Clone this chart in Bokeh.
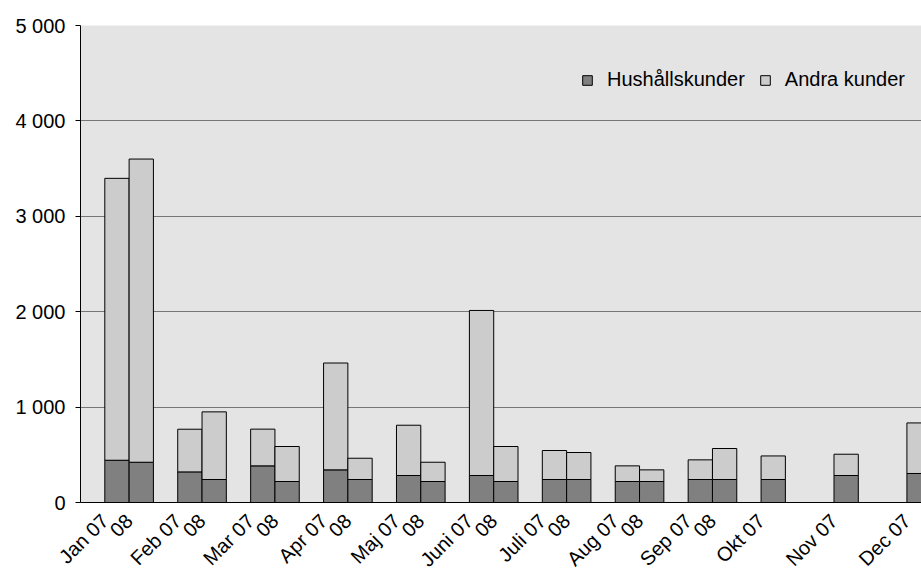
from bokeh.plotting import figure
from bokeh.models import Range1d, FixedTicker, Legend, LegendItem, ColumnDataSource
from bokeh.embed import file_html
from bokeh.resources import INLINE

months = ["Jan", "Feb", "Mar", "Apr", "Maj", "Juni", "Juli", "Aug", "Sep", "Okt", "Nov", "Dec"]
hush_07 = [443, 321, 384, 342, 283, 283, 241, 220, 241, 241, 283, 304]
andra_07 = [2955, 447, 385, 1120, 527, 1730, 304, 164, 206, 247, 223, 530]
hush_08 = [422, 241, 220, 241, 220, 220, 241, 220, 241]
andra_08 = [3178, 709, 367, 223, 202, 367, 283, 122, 325]
y_ticks = [0, 1000, 2000, 3000, 4000, 5000]
y_tick_labels = ["0", "1 000", "2 000", "3 000", "4 000", "5 000"]

FONT = "Liberation Sans"

# layout: each month = blank slot, 07 slot, 08 slot
x07 = [3 * i + 1.5 for i in range(len(hush_07))]
x08 = [3 * i + 2.5 for i in range(len(hush_08))]

src07 = ColumnDataSource(dict(x=x07, h=hush_07, t=[a + b for a, b in zip(hush_07, andra_07)]))
src08 = ColumnDataSource(dict(x=x08, h=hush_08, t=[a + b for a, b in zip(hush_08, andra_08)]))

p = figure(width=921, height=581, x_range=Range1d(0, 34.6), y_range=Range1d(0, 5000),
           output_backend="svg", toolbar_location=None,
           min_border_left=80, min_border_right=0, min_border_top=25, min_border_bottom=79)
p.background_fill_color = "#e4e4e4"
p.border_fill_color = "white"
p.outline_line_color = None

dark = "#808080"
light = "#cccccc"

r1 = p.vbar(x="x", width=1, bottom=0, top="h", source=src07, fill_color=dark, line_color="black", line_width=1)
r2 = p.vbar(x="x", width=1, bottom="h", top="t", source=src07, fill_color=light, line_color="black", line_width=1)
p.vbar(x="x", width=1, bottom=0, top="h", source=src08, fill_color=dark, line_color="black", line_width=1)
p.vbar(x="x", width=1, bottom="h", top="t", source=src08, fill_color=light, line_color="black", line_width=1)

# axes
p.xgrid.visible = False
p.ygrid.grid_line_color = "#777777"
p.ygrid.ticker = FixedTicker(ticks=y_ticks)

p.yaxis.ticker = FixedTicker(ticks=y_ticks)
p.yaxis.major_label_overrides = {t: l for t, l in zip(y_ticks, y_tick_labels)}
p.yaxis.major_tick_out = 5
p.yaxis.major_tick_in = 0
p.yaxis.minor_tick_out = 0
p.yaxis.minor_tick_in = 0
p.yaxis.major_label_standoff = 10
p.yaxis.major_label_text_font = FONT
p.yaxis.major_label_text_font_size = "20px"
p.yaxis.major_label_text_color = "black"
p.yaxis.axis_line_color = "black"
p.yaxis.major_tick_line_color = "black"

# x labels: anchored at each bar's left edge, rotated 45 degrees
xt = [int(x - 0.5) for x in x07] + [int(x - 0.5) for x in x08]
xl = [f"{m} 07" for m in months] + ["08" for _ in hush_08]
p.xaxis.ticker = FixedTicker(ticks=xt)
p.xaxis.major_label_overrides = {t: l for t, l in zip(xt, xl)}
p.xaxis.major_label_orientation = 0.785398
p.xaxis.major_tick_out = 0
p.xaxis.major_tick_in = 0
p.xaxis.minor_tick_out = 0
p.xaxis.minor_tick_in = 0
p.xaxis.major_label_standoff = 15
p.xaxis.major_label_text_font = FONT
p.xaxis.major_label_text_font_size = "20px"
p.xaxis.major_label_text_color = "black"
p.xaxis.axis_line_color = "black"

legend = Legend(items=[LegendItem(label="Hushållskunder", renderers=[r1]),
                       LegendItem(label="Andra kunder", renderers=[r2])],
                orientation="horizontal", location=(501, 411),
                glyph_width=12, glyph_height=12, label_standoff=14, spacing=14,
                padding=0, margin=0, border_line_color=None, background_fill_alpha=0,
                label_text_font=FONT, label_text_font_size="20px", label_text_color="black")
p.add_layout(legend, "center")

open("out.html", "w").write(file_html(p, INLINE))
